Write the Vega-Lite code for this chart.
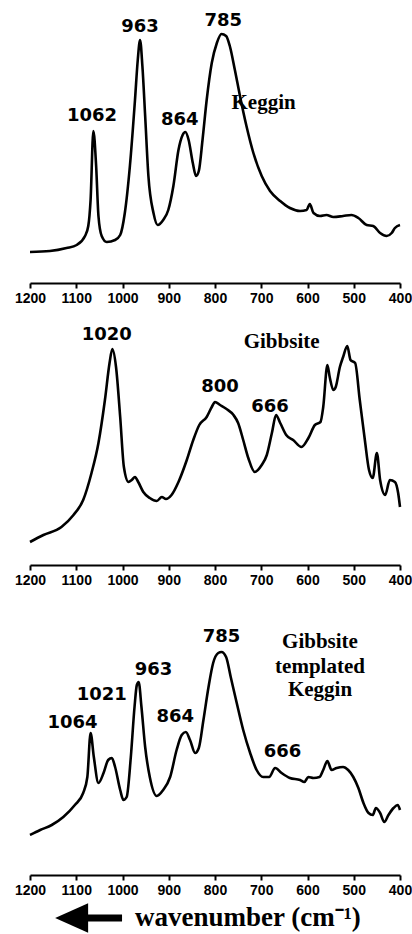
{
  "$schema": "https://vega.github.io/schema/vega-lite/v6.json",
  "padding": {"left": 14, "top": 0, "right": 0, "bottom": 0},
  "bounds": "flush",
  "spacing": 30,
  "background": "white",
  "config": {
    "view": {"stroke": null},
    "axis": {
      "grid": false,
      "domainColor": "black",
      "domainWidth": 2,
      "tickColor": "black",
      "tickWidth": 2,
      "labelColor": "black",
      "labelFont": "Liberation Sans",
      "labelFontWeight": "bold",
      "labelFontSize": 14
    }
  },
  "datasets": {
    "keggin": [
      {"wn":1200,"v":31},{"wn":1157,"v":32},{"wn":1121,"v":35},{"wn":1099,"v":38},{"wn":1081,"v":47},{"wn":1074,"v":57},{"wn":1069,"v":83},{"wn":1063,"v":152},{"wn":1057,"v":117},{"wn":1052,"v":67},{"wn":1045,"v":47},{"wn":1034,"v":41},{"wn":1016,"v":43},{"wn":1005,"v":48},{"wn":995,"v":70},{"wn":984,"v":117},{"wn":973,"v":183},{"wn":967,"v":223},{"wn":962,"v":243},{"wn":957,"v":217},{"wn":951,"v":167},{"wn":944,"v":107},{"wn":933,"v":70},{"wn":924,"v":58},{"wn":912,"v":63},{"wn":901,"v":73},{"wn":890,"v":97},{"wn":879,"v":133},{"wn":870,"v":148},{"wn":864,"v":151},{"wn":857,"v":143},{"wn":848,"v":120},{"wn":841,"v":107},{"wn":835,"v":112},{"wn":827,"v":143},{"wn":818,"v":183},{"wn":807,"v":220},{"wn":796,"v":240},{"wn":786,"v":249},{"wn":776,"v":247},{"wn":768,"v":237},{"wn":757,"v":213},{"wn":746,"v":187},{"wn":732,"v":157},{"wn":717,"v":130},{"wn":699,"v":107},{"wn":681,"v":92},{"wn":659,"v":82},{"wn":638,"v":75},{"wn":616,"v":72},{"wn":602,"v":73},{"wn":595,"v":79},{"wn":587,"v":70},{"wn":573,"v":67},{"wn":559,"v":68},{"wn":544,"v":66},{"wn":523,"v":67},{"wn":505,"v":68},{"wn":490,"v":65},{"wn":472,"v":58},{"wn":458,"v":57},{"wn":443,"v":50},{"wn":429,"v":47},{"wn":418,"v":50},{"wn":411,"v":55},{"wn":400,"v":58}
    ],
    "gibbsite": [
      {"wn":1200,"v":23},{"wn":1171,"v":30},{"wn":1132,"v":38},{"wn":1106,"v":50},{"wn":1085,"v":65},{"wn":1067,"v":92},{"wn":1052,"v":122},{"wn":1038,"v":165},{"wn":1028,"v":202},{"wn":1022,"v":216},{"wn":1014,"v":198},{"wn":1005,"v":148},{"wn":997,"v":98},{"wn":987,"v":83},{"wn":980,"v":85},{"wn":973,"v":88},{"wn":966,"v":83},{"wn":955,"v":73},{"wn":941,"v":67},{"wn":926,"v":64},{"wn":915,"v":68},{"wn":906,"v":66},{"wn":894,"v":70},{"wn":879,"v":83},{"wn":861,"v":105},{"wn":847,"v":125},{"wn":834,"v":140},{"wn":818,"v":148},{"wn":807,"v":158},{"wn":800,"v":163},{"wn":789,"v":160},{"wn":775,"v":156},{"wn":760,"v":150},{"wn":750,"v":142},{"wn":739,"v":125},{"wn":728,"v":107},{"wn":714,"v":93},{"wn":699,"v":100},{"wn":688,"v":110},{"wn":677,"v":132},{"wn":668,"v":150},{"wn":659,"v":142},{"wn":646,"v":130},{"wn":631,"v":125},{"wn":613,"v":118},{"wn":598,"v":127},{"wn":584,"v":140},{"wn":572,"v":143},{"wn":566,"v":158},{"wn":557,"v":200},{"wn":552,"v":188},{"wn":544,"v":175},{"wn":539,"v":178},{"wn":530,"v":198},{"wn":523,"v":208},{"wn":514,"v":219},{"wn":507,"v":205},{"wn":497,"v":202},{"wn":487,"v":165},{"wn":476,"v":125},{"wn":467,"v":95},{"wn":459,"v":87},{"wn":450,"v":112},{"wn":443,"v":85},{"wn":432,"v":70},{"wn":422,"v":85},{"wn":411,"v":83},{"wn":404,"v":72},{"wn":400,"v":58}
    ],
    "templated": [
      {"wn":1200,"v":40},{"wn":1178,"v":45},{"wn":1153,"v":50},{"wn":1128,"v":58},{"wn":1103,"v":70},{"wn":1085,"v":82},{"wn":1076,"v":98},{"wn":1069,"v":142},{"wn":1062,"v":118},{"wn":1052,"v":92},{"wn":1041,"v":102},{"wn":1031,"v":115},{"wn":1023,"v":117},{"wn":1016,"v":108},{"wn":1005,"v":85},{"wn":998,"v":75},{"wn":991,"v":78},{"wn":982,"v":118},{"wn":974,"v":168},{"wn":969,"v":190},{"wn":965,"v":193},{"wn":959,"v":168},{"wn":951,"v":128},{"wn":941,"v":98},{"wn":926,"v":79},{"wn":912,"v":85},{"wn":897,"v":98},{"wn":883,"v":125},{"wn":872,"v":140},{"wn":863,"v":143},{"wn":854,"v":135},{"wn":843,"v":122},{"wn":835,"v":127},{"wn":825,"v":155},{"wn":814,"v":188},{"wn":804,"v":212},{"wn":793,"v":222},{"wn":786,"v":223},{"wn":776,"v":218},{"wn":766,"v":198},{"wn":753,"v":172},{"wn":739,"v":145},{"wn":724,"v":122},{"wn":710,"v":105},{"wn":696,"v":98},{"wn":683,"v":98},{"wn":670,"v":107},{"wn":656,"v":102},{"wn":638,"v":97},{"wn":616,"v":95},{"wn":607,"v":93},{"wn":598,"v":98},{"wn":587,"v":97},{"wn":574,"v":98},{"wn":566,"v":105},{"wn":557,"v":114},{"wn":548,"v":105},{"wn":537,"v":107},{"wn":523,"v":108},{"wn":512,"v":105},{"wn":501,"v":98},{"wn":490,"v":87},{"wn":479,"v":72},{"wn":468,"v":62},{"wn":459,"v":60},{"wn":452,"v":67},{"wn":443,"v":62},{"wn":434,"v":53},{"wn":425,"v":60},{"wn":414,"v":67},{"wn":405,"v":70},{"wn":400,"v":65}
    ],
    "labels": [
      {"panel":1,"kind":"peak","label":"1062","wn":1066,"v":167},
      {"panel":1,"kind":"peak","label":"963","wn":962,"v":256},
      {"panel":1,"kind":"peak","label":"864","wn":876,"v":163},
      {"panel":1,"kind":"peak","label":"785","wn":782,"v":262},
      {"panel":1,"kind":"name","label":"Keggin","wn":695,"v":180},
      {"panel":2,"kind":"peak","label":"1020","wn":1034,"v":230},
      {"panel":2,"kind":"peak","label":"800","wn":789,"v":178},
      {"panel":2,"kind":"peak","label":"666","wn":681,"v":158},
      {"panel":2,"kind":"name","label":"Gibbsite","wn":656,"v":223},
      {"panel":3,"kind":"peak","label":"1064","wn":1108,"v":152},
      {"panel":3,"kind":"peak","label":"1021","wn":1045,"v":180},
      {"panel":3,"kind":"peak","label":"963","wn":933,"v":205},
      {"panel":3,"kind":"peak","label":"864","wn":886,"v":158},
      {"panel":3,"kind":"peak","label":"785","wn":786,"v":238},
      {"panel":3,"kind":"peak","label":"666","wn":654,"v":123},
      {"panel":3,"kind":"name","label":"Gibbsite","wn":573,"v":233},
      {"panel":3,"kind":"name","label":"templated","wn":573,"v":208},
      {"panel":3,"kind":"name","label":"Keggin","wn":573,"v":185}
    ]
  },
  "vconcat": [
    {
      "width": 370, "height": 283,
      "layer": [
        {
          "data": {"name": "keggin"},
          "mark": {"type": "line", "color": "black", "strokeWidth": 2.6, "interpolate": "monotone"},
          "encoding": {
            "x": {"field": "wn", "type": "quantitative",
              "scale": {"domain": [400, 1200], "reverse": true, "nice": false, "zero": false},
              "axis": {"values": [1200,1150,1100,1050,1000,950,900,850,800,750,700,650,600,550,500,450,400], "format": "d", "labelExpr": "datum.value % 100 === 0 ? datum.label : ''", "tickSize": {"condition": {"test": "datum.value % 100 !== 0", "value": 3}, "value": 5}, "labelFlush": false, "labelOverlap": false, "labelPadding": 3, "title": null}},
            "y": {"field": "v", "type": "quantitative", "scale": {"domain": [0, 283], "nice": false, "zero": false}, "axis": null},
            "order": {"field": "wn", "sort": "descending"}
          }
        },
        {
          "data": {"name": "labels"},
          "transform": [{"filter": "datum.panel == 1 && datum.kind == 'peak'"}],
          "mark": {"type": "text", "font": "DejaVu Sans", "fontWeight": "bold", "fontSize": 18, "align": "center", "baseline": "middle", "color": "black"},
          "encoding": {"x": {"field": "wn", "type": "quantitative"}, "y": {"field": "v", "type": "quantitative"}, "text": {"field": "label"}}
        },
        {
          "data": {"name": "labels"},
          "transform": [{"filter": "datum.panel == 1 && datum.kind == 'name'"}],
          "mark": {"type": "text", "font": "Liberation Serif", "fontWeight": "bold", "fontSize": 21, "align": "center", "baseline": "middle", "color": "black"},
          "encoding": {"x": {"field": "wn", "type": "quantitative"}, "y": {"field": "v", "type": "quantitative"}, "text": {"field": "label"}}
        }
      ]
    },
    {
      "width": 370, "height": 252,
      "layer": [
        {
          "data": {"name": "gibbsite"},
          "mark": {"type": "line", "color": "black", "strokeWidth": 2.6, "interpolate": "monotone"},
          "encoding": {
            "x": {"field": "wn", "type": "quantitative",
              "scale": {"domain": [400, 1200], "reverse": true, "nice": false, "zero": false},
              "axis": {"values": [1200,1150,1100,1050,1000,950,900,850,800,750,700,650,600,550,500,450,400], "format": "d", "labelExpr": "datum.value % 100 === 0 ? datum.label : ''", "tickSize": {"condition": {"test": "datum.value % 100 !== 0", "value": 3}, "value": 5}, "labelFlush": false, "labelOverlap": false, "labelPadding": 3, "title": null}},
            "y": {"field": "v", "type": "quantitative", "scale": {"domain": [0, 252], "nice": false, "zero": false}, "axis": null},
            "order": {"field": "wn", "sort": "descending"}
          }
        },
        {
          "data": {"name": "labels"},
          "transform": [{"filter": "datum.panel == 2 && datum.kind == 'peak'"}],
          "mark": {"type": "text", "font": "DejaVu Sans", "fontWeight": "bold", "fontSize": 18, "align": "center", "baseline": "middle", "color": "black"},
          "encoding": {"x": {"field": "wn", "type": "quantitative"}, "y": {"field": "v", "type": "quantitative"}, "text": {"field": "label"}}
        },
        {
          "data": {"name": "labels"},
          "transform": [{"filter": "datum.panel == 2 && datum.kind == 'name'"}],
          "mark": {"type": "text", "font": "Liberation Serif", "fontWeight": "bold", "fontSize": 21, "align": "center", "baseline": "middle", "color": "black"},
          "encoding": {"x": {"field": "wn", "type": "quantitative"}, "y": {"field": "v", "type": "quantitative"}, "text": {"field": "label"}}
        }
      ]
    },
    {
      "width": 370, "height": 280,
      "layer": [
        {
          "data": {"name": "templated"},
          "mark": {"type": "line", "color": "black", "strokeWidth": 2.6, "interpolate": "monotone"},
          "encoding": {
            "x": {"field": "wn", "type": "quantitative",
              "scale": {"domain": [400, 1200], "reverse": true, "nice": false, "zero": false},
              "axis": {"values": [1200,1150,1100,1050,1000,950,900,850,800,750,700,650,600,550,500,450,400], "format": "d", "labelExpr": "datum.value % 100 === 0 ? datum.label : ''", "tickSize": {"condition": {"test": "datum.value % 100 !== 0", "value": 3}, "value": 5}, "labelFlush": false, "labelOverlap": false, "labelPadding": 3, "title": null}},
            "y": {"field": "v", "type": "quantitative", "scale": {"domain": [0, 280], "nice": false, "zero": false}, "axis": null},
            "order": {"field": "wn", "sort": "descending"}
          }
        },
        {
          "data": {"name": "labels"},
          "transform": [{"filter": "datum.panel == 3 && datum.kind == 'peak'"}],
          "mark": {"type": "text", "font": "DejaVu Sans", "fontWeight": "bold", "fontSize": 18, "align": "center", "baseline": "middle", "color": "black"},
          "encoding": {"x": {"field": "wn", "type": "quantitative"}, "y": {"field": "v", "type": "quantitative"}, "text": {"field": "label"}}
        },
        {
          "data": {"name": "labels"},
          "transform": [{"filter": "datum.panel == 3 && datum.kind == 'name'"}],
          "mark": {"type": "text", "font": "Liberation Serif", "fontWeight": "bold", "fontSize": 21, "align": "center", "baseline": "middle", "color": "black"},
          "encoding": {"x": {"field": "wn", "type": "quantitative"}, "y": {"field": "v", "type": "quantitative"}, "text": {"field": "label"}}
        }
      ]
    },
    {
      "width": 370, "height": 29,
      "data": {"values": [{}]},
      "layer": [
        {
          "mark": {"type": "rule", "color": "black", "strokeWidth": 7},
          "encoding": {
            "x": {"datum": 1085, "type": "quantitative", "scale": {"domain": [400, 1200], "reverse": true, "nice": false, "zero": false}, "axis": null},
            "x2": {"datum": 1001},
            "y": {"datum": 16, "type": "quantitative", "scale": {"domain": [0, 29], "nice": false, "zero": false}, "axis": null}
          }
        },
        {
          "mark": {"type": "point", "shape": "M-1,0L1,-0.9L1,0.9Z", "filled": true, "size": 1089, "color": "black", "opacity": 1},
          "encoding": {
            "x": {"datum": 1110, "type": "quantitative"},
            "y": {"datum": 16, "type": "quantitative"}
          }
        },
        {
          "mark": {"type": "text", "font": "Liberation Serif", "fontWeight": "bold", "fontSize": 27, "align": "center", "baseline": "alphabetic", "color": "black", "text": "wavenumber (cm⁻¹)"},
          "encoding": {
            "x": {"datum": 729, "type": "quantitative"},
            "y": {"datum": 8, "type": "quantitative"}
          }
        }
      ]
    }
  ]
}
